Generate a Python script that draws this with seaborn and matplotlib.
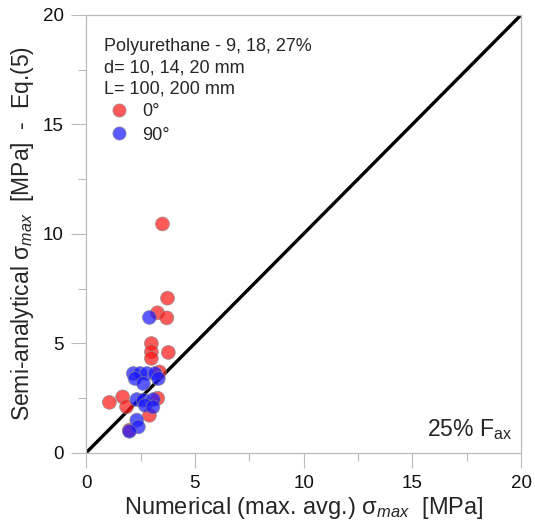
import numpy as np
import pandas as pd
import seaborn as sns
import matplotlib.pyplot as plt

# values
red_x = [3.51, 3.74, 3.28, 3.71, 3.00, 3.00, 3.00, 3.78, 3.37, 1.07, 1.68, 1.86, 3.29, 2.91, 1.99]
red_y = [10.45, 7.06, 6.39, 6.16, 4.99, 4.61, 4.31, 4.58, 3.69, 2.30, 2.55, 2.10, 2.49, 1.71, 1.03]
blue_x = [2.91, 2.17, 2.48, 2.79, 3.17, 2.25, 2.63, 3.32, 2.33, 2.63, 3.09, 2.71, 3.07, 2.33, 2.40, 1.99]
blue_y = [6.18, 3.62, 3.62, 3.62, 3.62, 3.39, 3.16, 3.39, 2.43, 2.40, 2.43, 2.17, 2.09, 1.49, 1.18, 0.98]
groups = ["0°", "90°"]
ticks = [0, 5, 10, 15, 20]

df = pd.DataFrame({
    "x": red_x + blue_x,
    "y": red_y + blue_y,
    "angle": [groups[0]] * len(red_x) + [groups[1]] * len(blue_x),
})

sns.set_style("ticks")
plt.rcParams['font.family'] = ['Liberation Sans', 'DejaVu Sans']
plt.rcParams['mathtext.fontset'] = 'custom'
plt.rcParams['mathtext.rm'] = 'Liberation Sans'
plt.rcParams['mathtext.it'] = 'Liberation Sans:italic'

fig = plt.figure(figsize=(5.35, 5.32), dpi=100)
ax = fig.add_axes([0.161, 0.149, 0.813, 0.823])

ax.plot([0, 20], [0, 20], color="black", lw=2.4, zorder=1)

sns.scatterplot(data=df, x="x", y="y", hue="angle",
                palette={"0°": "#ff1a1a", "90°": "#1a1aff"},
                s=100, alpha=0.72, edgecolor="#888888", linewidth=0.6,
                ax=ax, zorder=3)

ax.set_xlim(0, 20)
ax.set_ylim(0, 20)
ax.set_xticks(ticks)
ax.set_yticks(ticks)
ax.set_xticks(np.arange(2.5, 20, 5), minor=True)
ax.set_yticks(np.arange(2.5, 20, 5), minor=True)
ax.tick_params(which="major", length=11, width=0.8, color="#bbbbbb",
               labelsize=13.5, labelcolor="#111111", pad=5)
ax.tick_params(which="minor", length=6, width=0.8, color="#bbbbbb")
for sp in ax.spines.values():
    sp.set_color("#bbbbbb")
    sp.set_linewidth(0.9)

ax.set_xlabel("Numerical (max. avg.) σ$_{max}$  [MPa]", fontsize=17, labelpad=2)
ax.set_ylabel("Semi-analytical σ$_{max}$  [MPa]  -  Eq.(5)", fontsize=16.5, labelpad=5)

leg = ax.legend(title="Polyurethane - 9, 18, 27%\nd= 10, 14, 20 mm\nL= 100, 200 mm",
                loc="upper left", bbox_to_anchor=(-0.012, 1.0),
                frameon=False, fontsize=13, title_fontsize=13,
                handletextpad=0.5, borderaxespad=0.9, labelspacing=0.35,
                markerscale=0.95, handlelength=1.6)
leg._legend_box.align = "left"
leg.get_title().set_linespacing(1.3)

ax.text(0.98, 0.025, r"25% F$_{\mathrm{ax}}$", transform=ax.transAxes,
        ha="right", va="bottom", fontsize=16.5)

fig.savefig("out.png", dpi=100)
